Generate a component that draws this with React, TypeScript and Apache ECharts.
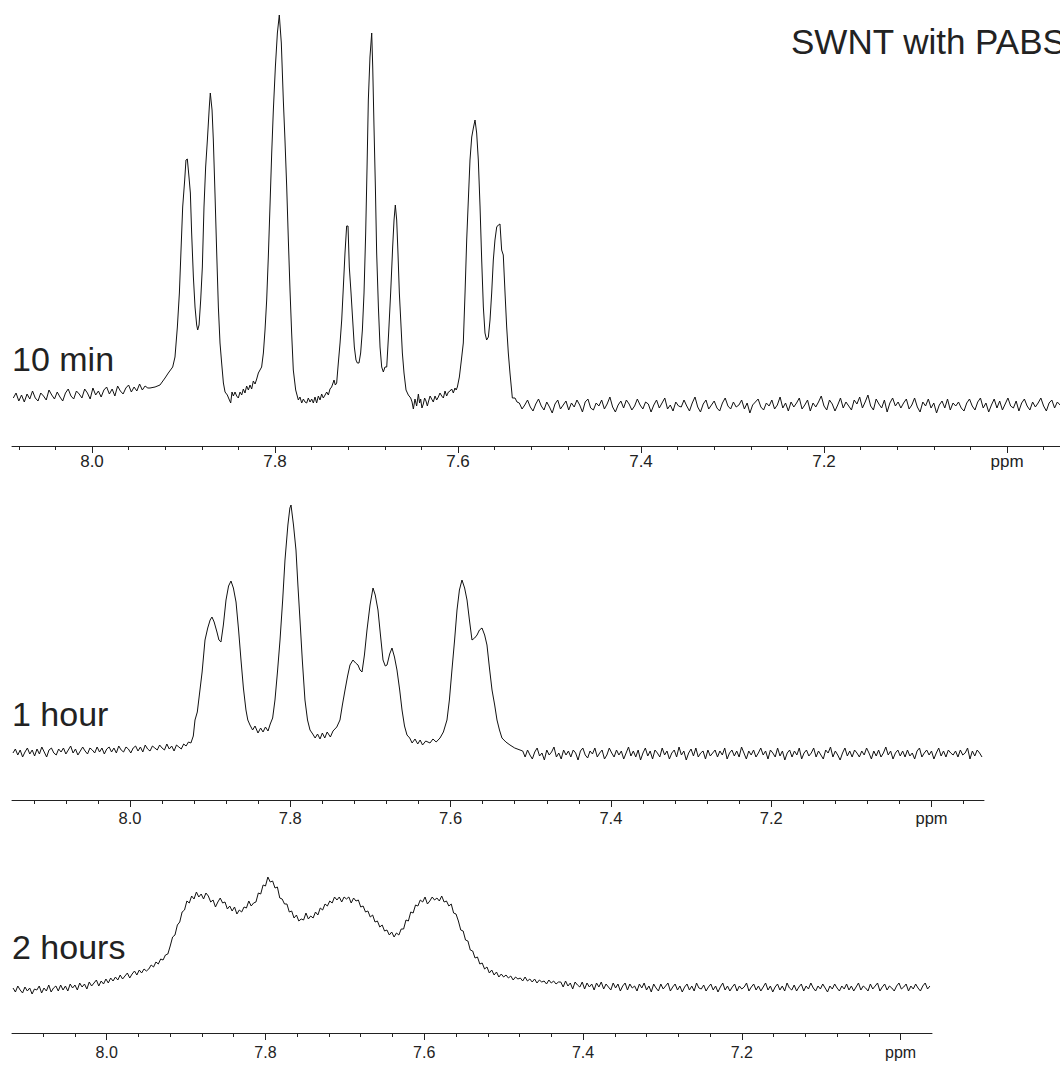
import React, { useEffect, useRef } from "react";
import * as echarts from "echarts";

// ---------- DATA ----------
const STEP = 0.003; // ppm spacing of the uniformly sampled baseline stretches

const title = "SWNT with PABS";
const panelLabels = ["10 min", "1 hour", "2 hours"];
const tickPpm = [8.12, 8.08, 8.04, 8.0, 7.96, 7.92, 7.88, 7.84, 7.8, 7.76, 7.72, 7.68, 7.64, 7.6, 7.56, 7.52, 7.48, 7.44, 7.4, 7.36, 7.32, 7.28, 7.24, 7.2, 7.16, 7.12, 7.08, 7.04, 7.0, 6.96];
const labelPpm = [8.0, 7.8, 7.6, 7.4, 7.2, 7.0];

// 10 min
const min10LeftStart = 8.086;
const min10Left = [48,53,45,51,44,52,47,55,48,45,53,50,46,56,51,47,54,49,45,53,57,50,47,55,52,48,57,53,47,58,51,55,49,56,59,52,57,50,60,55,52,58,61,54,59,55,62,56,60,58];
const min10Peaks: [number, number][] = [
  [7.9366,58],[7.9311,59],[7.9257,61],[7.9202,68],[7.9166,73],[7.9118,79],[7.9093,89],[7.9067,119],[7.9045,153],[7.9027,196],[7.9009,239],[7.8987,266],[7.8973,286],[7.8958,287],[7.8940,269],[7.8925,253],[7.8911,213],[7.8892,169],[7.8874,139],[7.8856,121],[7.8845,116],[7.8830,121],[7.8812,146],[7.8794,179],[7.8776,239],[7.8758,279],[7.8739,306],[7.8718,339],[7.8707,353],[7.8688,336],[7.8674,306],[7.8656,253],[7.8637,193],[7.8619,139],[7.8601,103],[7.8583,83],[7.8564,63],
  [7.8546,54],[7.8521,51],[7.8503,47],[7.8484,43],[7.8470,54],[7.8455,50],[7.8437,54],[7.8419,50],[7.8401,48],[7.8382,54],[7.8364,51],[7.8346,57],[7.8328,53],[7.8310,60],[7.8291,56],[7.8273,61],[7.8255,57],[7.8237,65],[7.8218,62],[7.8200,67],[7.8182,73],[7.8164,76],[7.8146,79],
  [7.8127,93],[7.8109,116],[7.8091,146],[7.8073,189],[7.8055,239],[7.8036,293],[7.8018,336],[7.7996,379],[7.7974,413],[7.7953,431],[7.7931,403],[7.7909,346],[7.7891,306],[7.7872,259],[7.7854,206],[7.7836,156],[7.7818,113],[7.7800,76],[7.7774,56],[7.7745,46],
  [7.7727,49],[7.7708,43],[7.7690,47],[7.7672,44],[7.7654,43],[7.7636,48],[7.7617,44],[7.7599,47],[7.7581,43],[7.7563,49],[7.7545,43],[7.7526,50],[7.7508,46],[7.7490,52],[7.7472,48],[7.7453,51],[7.7435,54],[7.7417,51],[7.7399,57],[7.7381,59],[7.7362,64],[7.7355,66],[7.7341,61],[7.7326,63],
  [7.7308,83],[7.7289,103],[7.7271,126],[7.7253,159],[7.7235,193],[7.7217,220],[7.7202,220],[7.7188,179],[7.7169,153],[7.7151,126],[7.7133,99],[7.7115,86],[7.7100,83],[7.7082,83],[7.7064,93],[7.7045,116],[7.7027,153],[7.7009,213],[7.6994,279],[7.6980,346],[7.6962,389],[7.6943,413],[7.6932,379],[7.6918,319],[7.6903,259],[7.6889,193],[7.6870,139],[7.6852,99],[7.6834,79],[7.6816,74],[7.6798,79],[7.6779,79],[7.6758,113],[7.6736,153],[7.6714,199],[7.6699,226],[7.6685,241],[7.6670,226],[7.6656,193],[7.6641,153],[7.6626,126],[7.6608,93],[7.6590,73],[7.6568,56],[7.6543,51],[7.6517,48],
  [7.6502,44],[7.6488,37],[7.6470,47],[7.6452,40],[7.6433,52],[7.6420,43],[7.6408,47],[7.6394,38],[7.6379,42],[7.6365,48],[7.6350,45],[7.6335,40],[7.6321,45],[7.6305,50],[7.6288,47],[7.6270,44],[7.6251,50],[7.6233,46],[7.6215,49],[7.6197,53],[7.6178,50],[7.6160,48],[7.6142,55],[7.6124,50],[7.6105,54],[7.6087,55],[7.6069,57],[7.6051,53],[7.6033,58],[7.6020,56],[7.6007,59],
  [7.5985,69],[7.5963,86],[7.5942,103],[7.5923,153],[7.5905,206],[7.5887,246],[7.5869,286],[7.5850,309],[7.5832,318],[7.5814,326],[7.5796,313],[7.5778,286],[7.5759,239],[7.5741,186],[7.5723,139],[7.5705,113],[7.5687,106],[7.5668,109],[7.5650,126],[7.5632,153],[7.5614,186],[7.5596,206],[7.5577,219],[7.5559,221],[7.5541,222],[7.5523,196],[7.5505,191],[7.5486,153],[7.5468,119],[7.5450,93],[7.5432,73],[7.5406,48],[7.5377,48],[7.5355,44],
];
const min10RightStart = 7.533;
const min10Right = [
  43,37,41,46,39,35,42,47,40,36,44,39,33,42,46,37,41,45,36,43,
  39,46,41,34,44,47,38,36,43,40,46,37,42,49,39,34,41,45,38,46,
  42,36,40,47,41,37,44,42,34,41,46,38,43,48,37,41,35,44,40,39,
  46,40,35,43,49,39,34,42,46,37,41,45,38,35,43,48,40,37,44,39,
  41,46,37,43,33,41,44,47,39,36,43,40,46,37,41,49,38,43,35,44,
  39,43,48,37,41,46,35,43,39,44,50,40,36,46,42,35,41,48,38,44,
  40,36,46,42,49,38,44,51,40,36,47,42,38,46,34,43,48,40,44,38,
  43,47,37,41,48,39,34,44,40,47,38,43,33,41,45,38,47,36,43,40,
  44,38,35,43,47,40,36,44,48,38,43,34,41,47,38,45,36,42,48,40,
  38,45,35,43,47,40,36,44,39,43,48,40,35,43,46,38,44,41,
];

// 1 hour
const hour1LeftStart = 8.146;
const hour1Left = [
  47,51,45,50,43,48,52,46,50,44,51,46,53,48,43,50,52,47,45,51,
  48,52,46,50,54,47,51,45,49,53,49,46,52,50,47,53,48,52,46,51,
  53,48,52,47,54,50,48,53,51,47,52,54,49,53,48,55,51,49,54,52,
  50,55,52,50,56,51,54,49,55,53,51,56,
];
const hour1Peaks: [number, number][] = [
  [7.9300,54],[7.9270,58],[7.9240,57],[7.9210,64],[7.9189,80],[7.9160,88],[7.9127,110],[7.9100,128],[7.9064,160],[7.9030,172],[7.9000,180],[7.8977,183],[7.8950,178],[7.8915,168],[7.8890,160],[7.8865,158],[7.8835,175],[7.8802,200],[7.8770,214],[7.8740,219],[7.8710,212],[7.8677,198],[7.8645,170],[7.8615,140],[7.8585,112],[7.8553,90],[7.8530,80],[7.8503,75],[7.8470,70],[7.8440,74],[7.8403,67],[7.8370,72],[7.8340,68],[7.8310,73],[7.8278,69],[7.8250,76],[7.8220,82],
  [7.8191,100],[7.8160,128],[7.8128,160],[7.8095,200],[7.8066,240],[7.8030,275],[7.8005,292],[7.7991,295],[7.7960,275],[7.7929,250],[7.7905,215],[7.7879,180],[7.7850,140],[7.7817,100],[7.7785,80],[7.7754,70],[7.7720,66],[7.7690,62],[7.7660,66],[7.7629,61],[7.7600,67],[7.7570,62],[7.7540,68],[7.7500,63],[7.7467,69],[7.7420,73],
  [7.7380,80],[7.7350,95],[7.7317,110],[7.7285,124],[7.7255,135],[7.7218,140],[7.7185,137],[7.7155,135],[7.7130,130],[7.7105,128],[7.7075,145],[7.7043,170],[7.7005,195],[7.6968,212],[7.6940,205],[7.6906,190],[7.6875,165],[7.6843,140],[7.6815,134],[7.6793,135],[7.6760,146],[7.6731,152],[7.6700,143],[7.6669,130],[7.6635,110],[7.6606,90],[7.6575,74],[7.6544,65],[7.6510,62],[7.6480,57],[7.6444,61],[7.6410,56],[7.6380,60],[7.6350,55],[7.6310,59],[7.6257,57],[7.6220,61],[7.6180,58],[7.6132,62],
  [7.6090,68],[7.6045,80],[7.6015,100],[7.5983,130],[7.5950,160],[7.5920,190],[7.5890,210],[7.5858,220],[7.5825,212],[7.5795,200],[7.5765,180],[7.5733,160],[7.5700,162],[7.5670,165],[7.5640,170],[7.5608,172],[7.5575,165],[7.5546,155],[7.5515,132],[7.5483,110],[7.5450,95],[7.5421,80],[7.5390,70],[7.5359,62],[7.5310,58],[7.5259,55],[7.5200,52],[7.5134,50],
];
const hour1RightStart = 7.51;
const hour1Right = [
  49,43,50,45,41,48,52,44,47,40,50,45,48,53,43,47,41,50,45,49,
  43,50,47,40,49,52,45,42,49,46,52,43,47,50,41,45,52,47,43,50,
  45,49,41,47,53,44,49,43,50,40,47,52,44,49,41,50,47,43,52,45,
  49,41,47,50,43,53,45,49,40,47,51,44,52,43,47,49,41,50,44,47,
  50,43,49,45,52,41,47,50,44,49,43,53,47,41,49,45,50,43,47,52,
  45,49,41,50,47,43,52,44,49,40,47,50,43,49,45,52,41,47,50,44,
  47,52,43,49,45,41,50,47,53,43,49,45,40,47,52,44,49,43,50,47,
  43,49,45,52,47,41,49,44,50,43,47,53,45,49,41,47,50,44,49,43,
  50,44,47,41,49,52,43,47,50,45,49,41,47,52,44,49,43,50,47,45,
  49,43,50,45,47,52,41,49,44,50,47,43,
];

// 2 hours
const hour2LeftStart = 8.118;
const hour2Left = [
  45,41,47,43,40,46,42,45,39,44,
  43,47,40,45,42,48,41,45,47,42,
  48,43,47,42,49,45,48,43,50,46,
  49,44,51,47,50,53,47,52,49,54,
  50,55,52,56,53,58,54,57,60,55,
  59,62,58,63,60,64,62,
];
const hour2HumpStart = 7.947;
const hour2Hump = [
  64,68,66,71,69,74,73,78,79,87,
  96,98,108,111,121,123,132,130,137,134,
  141,136,139,134,140,137,131,133,126,131,
  135,130,131,124,127,122,126,119,123,121,
  126,125,132,127,130,131,140,139,148,147,
  156,151,152,145,146,135,134,129,129,121,
  122,115,118,112,114,113,120,114,117,115,
  121,118,125,123,129,127,132,130,136,133,
  136,131,136,134,136,130,135,132,133,126,
  127,121,122,116,118,111,112,106,108,102,
  103,98,101,96,100,98,104,104,113,112,
  121,120,128,127,133,131,136,129,132,136,
  133,135,132,137,131,132,127,129,120,119,
  112,103,102,93,92,83,82,75,76,69,
  70,64,66,60,63,58,61,56,59,56,
  58,55,57,53,56,54,55,52,56,52,
  54,51,54,50,53,51,52,49,53,50,
  52,49,51,
];
const hour2RightStart = 7.428;
const hour2Right = [
  51,46,52,47,50,44,51,48,46,51,44,50,46,49,43,50,46,51,44,49,
  46,43,50,45,49,42,47,50,43,49,45,47,42,49,45,50,43,47,41,49,
  45,42,49,44,47,50,42,46,49,43,47,41,46,49,43,47,42,50,45,44,
  48,42,46,49,43,47,41,46,50,43,47,42,46,49,42,47,44,46,50,42,
  46,49,43,47,42,46,50,43,47,41,46,49,43,47,42,50,45,43,48,42,
  46,49,42,47,44,50,45,42,47,44,49,45,41,47,44,49,45,42,47,44,
  49,43,47,42,46,50,43,47,45,42,49,44,47,50,42,46,49,43,47,45,
  42,47,50,44,46,49,42,47,44,49,45,42,47,50,44,47,
];

// ---------- BUILD ----------
const uni = (start: number, vals: number[]): [number, number][] =>
  vals.map((v, i) => [Number((start - i * STEP).toFixed(4)), v]);

const spectra: [number, number][][] = [
  [...uni(min10LeftStart, min10Left), ...min10Peaks, ...uni(min10RightStart, min10Right)],
  [...uni(hour1LeftStart, hour1Left), ...hour1Peaks, ...uni(hour1RightStart, hour1Right)],
  [...uni(hour2LeftStart, hour2Left), ...uni(hour2HumpStart, hour2Hump), ...uni(hour2RightStart, hour2Right)],
];

// layout (pixels) for each stacked panel
const panels = [
  { min: 6.94208, max: 8.08743, left: 12, width: 1048, top: 0, height: 446, labelMargin: 7, labelSize: 17, textY: 359 },
  { min: 6.9345, max: 8.1472, left: 12, width: 972, top: 460, height: 340, labelMargin: 9, labelSize: 16.5, textY: 714 },
  { min: 6.9604, max: 8.1193, left: 12, width: 920, top: 840, height: 193, labelMargin: 11, labelSize: 16, textY: 947 },
];

const FONT = '"Liberation Sans", Arial, Helvetica, sans-serif';
const INK = "#222";

export default function App() {
  const ref = useRef<HTMLDivElement>(null);
  useEffect(() => {
    if (!ref.current) return;
    const chart = echarts.init(ref.current, undefined, { renderer: "svg" });
    const grid: any[] = [];
    const xAxis: any[] = [];
    const yAxis: any[] = [];
    const series: any[] = [];
    const graphic: any[] = [];
    panels.forEach((p, i) => {
      grid.push({ left: p.left, top: p.top, width: p.width, height: p.height, containLabel: false });
      const inRange = (v: number) => v >= p.min - 1e-9 && v <= p.max + 1e-9;
      const ticks = tickPpm.filter(inRange);
      const majors = labelPpm.filter(inRange);
      xAxis.push({
        type: "value", gridIndex: i, inverse: true, min: p.min, max: p.max, position: "bottom",
        axisLine: { show: true, lineStyle: { color: INK, width: 1 } },
        axisTick: { show: true, length: 4, customValues: ticks, lineStyle: { color: INK, width: 1 } },
        axisLabel: { show: false },
        splitLine: { show: false },
      });
      xAxis.push({
        type: "value", gridIndex: i, inverse: true, min: p.min, max: p.max, position: "bottom",
        axisLine: { show: false },
        axisTick: { show: true, length: 7, customValues: majors, lineStyle: { color: INK, width: 1 } },
        axisLabel: {
          show: true, customValues: majors, margin: p.labelMargin, fontSize: p.labelSize, fontFamily: FONT, color: INK,
          formatter: (v: number) => (Math.abs(v - 7) < 1e-6 ? "ppm" : v.toFixed(1)),
        },
        splitLine: { show: false },
      });
      yAxis.push({ type: "value", gridIndex: i, min: 0, max: p.height, show: false });
      series.push({
        type: "line", xAxisIndex: 2 * i, yAxisIndex: i, data: spectra[i],
        showSymbol: false, symbol: "none", silent: true, clip: true,
        lineStyle: { color: "#111", width: 1 },
      });
      graphic.push({
        type: "text", x: 12, y: p.textY, silent: true,
        style: { text: panelLabels[i], fill: INK, fontSize: 34, fontFamily: FONT, align: "left", verticalAlign: "middle", textAlign: "left", textVerticalAlign: "middle" },
      });
    });
    graphic.push({
      type: "text", x: 791, y: 41, silent: true,
      style: { text: title, fill: INK, fontSize: 35, fontFamily: FONT, align: "left", verticalAlign: "middle", textAlign: "left", textVerticalAlign: "middle" },
    });
    chart.setOption({ animation: false, backgroundColor: "#fff", grid, xAxis, yAxis, series, graphic });
    return () => chart.dispose();
  }, []);
  return (
    <div
      ref={ref}
      style={{ position: "fixed", left: 0, top: 0, width: 1060, height: 1065, background: "#fff" }}
    />
  );
}
